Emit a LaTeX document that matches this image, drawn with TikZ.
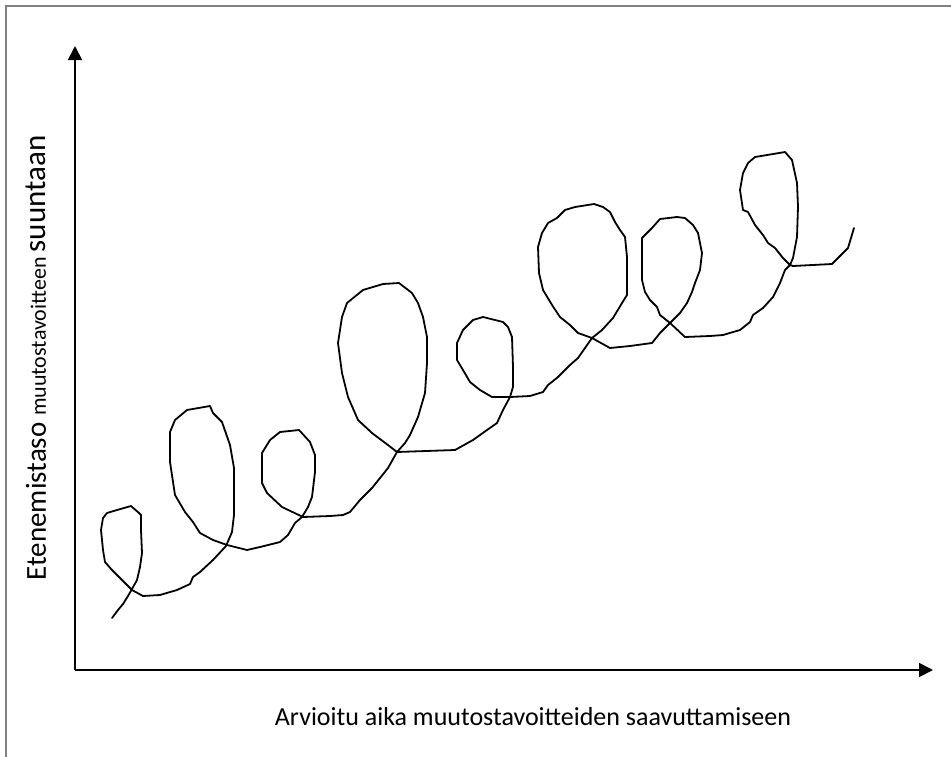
\documentclass[tikz,border=0pt]{standalone}
\usepackage{fontspec}
\setmainfont{Carlito}
\usetikzlibrary{arrows.meta}
\begin{document}
\begin{tikzpicture}[x=1pt,y=-1pt,
  axis/.style={line width=1.8pt,-{Triangle[length=14pt,width=14pt]}},
  frameline/.style={draw=black!50,line width=1.4pt},
  curve/.style={line width=1.8pt,line join=round,line cap=round},
  lbl/.style={inner sep=0pt}]
\useasboundingbox (0,0) rectangle (951,756);
\draw[frameline] (6,760) -- (6,6) -- (955,6);
\coordinate (O) at (75,670);
\coordinate (Ytop) at (75,46);
\coordinate (Xend) at (933,670);
\draw[axis] (O) -- (Ytop);
\draw[axis] (O) -- (Xend);
\node[lbl] (xl) at (533,717) {\fontsize{26}{30}\selectfont Arvioitu aika muutostavoitteiden saavuttamiseen};
\node[lbl,rotate=90] (yl) at (36,358) {\fontsize{29}{33}\selectfont Etenemistaso \fontsize{22}{26}\selectfont muutostavoitteen \fontsize{31}{34}\selectfont suuntaan};
\draw[curve] plot coordinates {
(112,618)(118,610)(123,604)(128,596)(132,589)(137,580)(140,567)(142,553)(141,530)(141,515)(139,513)(131,506)(117,510)(107,513)(103,518)(101,530)(103,550)(105,562)(112,570)(122,580)(132,590)(143,596)(160,595)(177,590)(190,584)(193,577)(200,572)(213,560)(226,546)
(232,532)(234,515)(234,490)(234,468)(230,445)(222,422)(213,413)(210,406)(187,410)(175,420)(170,432)(170,462)(175,495)(185,512)(193,522)(200,533)(213,540)(227,545)(247,550)(260,547)(280,542)(288,535)(295,523)(302,517)
(308,507)(312,497)(315,472)(315,455)(310,442)(299,430)(280,432)(270,440)(262,453)(262,483)(267,493)(282,507)(303,517)(330,516)(343,515)(350,512)(360,500)(372,488)(380,478)(388,468)(397,452)
(405,443)(410,435)(418,417)(425,393)(427,363)(427,337)(423,317)(418,303)(412,293)(399,283)(383,284)(363,290)(347,303)(342,317)(338,343)(342,373)(348,397)(358,420)(372,433)(388,445)(397,452)(455,450)(473,440)(487,430)(497,423)(503,410)(510,397)
(513,387)(513,367)(512,337)(508,327)(503,322)(495,320)(483,317)(473,320)(463,330)(457,343)(457,360)(463,370)(470,382)(480,390)(492,397)(510,397)(530,396)(543,392)(548,385)(558,377)(570,365)(578,358)(592,338)
(602,330)(613,318)(622,303)(627,295)(627,257)(625,237)(620,230)(615,222)(610,212)(603,207)(594,204)(575,207)(565,210)(557,218)(548,223)(542,233)(538,247)(539,273)(543,290)(552,305)(560,317)(570,325)(578,333)(592,338)(610,348)(630,346)(652,343)(660,333)(670,323)
(680,313)(687,303)(692,292)(695,283)(700,270)(702,253)(698,233)(693,225)(685,218)(677,217)(660,219)(652,228)(642,238)(642,280)(645,292)(650,300)(657,307)(660,315)(670,323)(685,337)(710,336)(723,335)(740,330)(750,322)(753,315)(763,308)(773,297)(780,283)(785,270)(790,265)
(793,258)(797,237)(798,207)(797,183)(792,160)(785,152)(755,157)(748,163)(743,173)(740,190)(743,210)(748,212)(755,225)(763,235)(768,243)(775,248)(783,258)(790,265)(793,266)(832,264)(848,248)(854,228)
};
\end{tikzpicture}
\end{document}
